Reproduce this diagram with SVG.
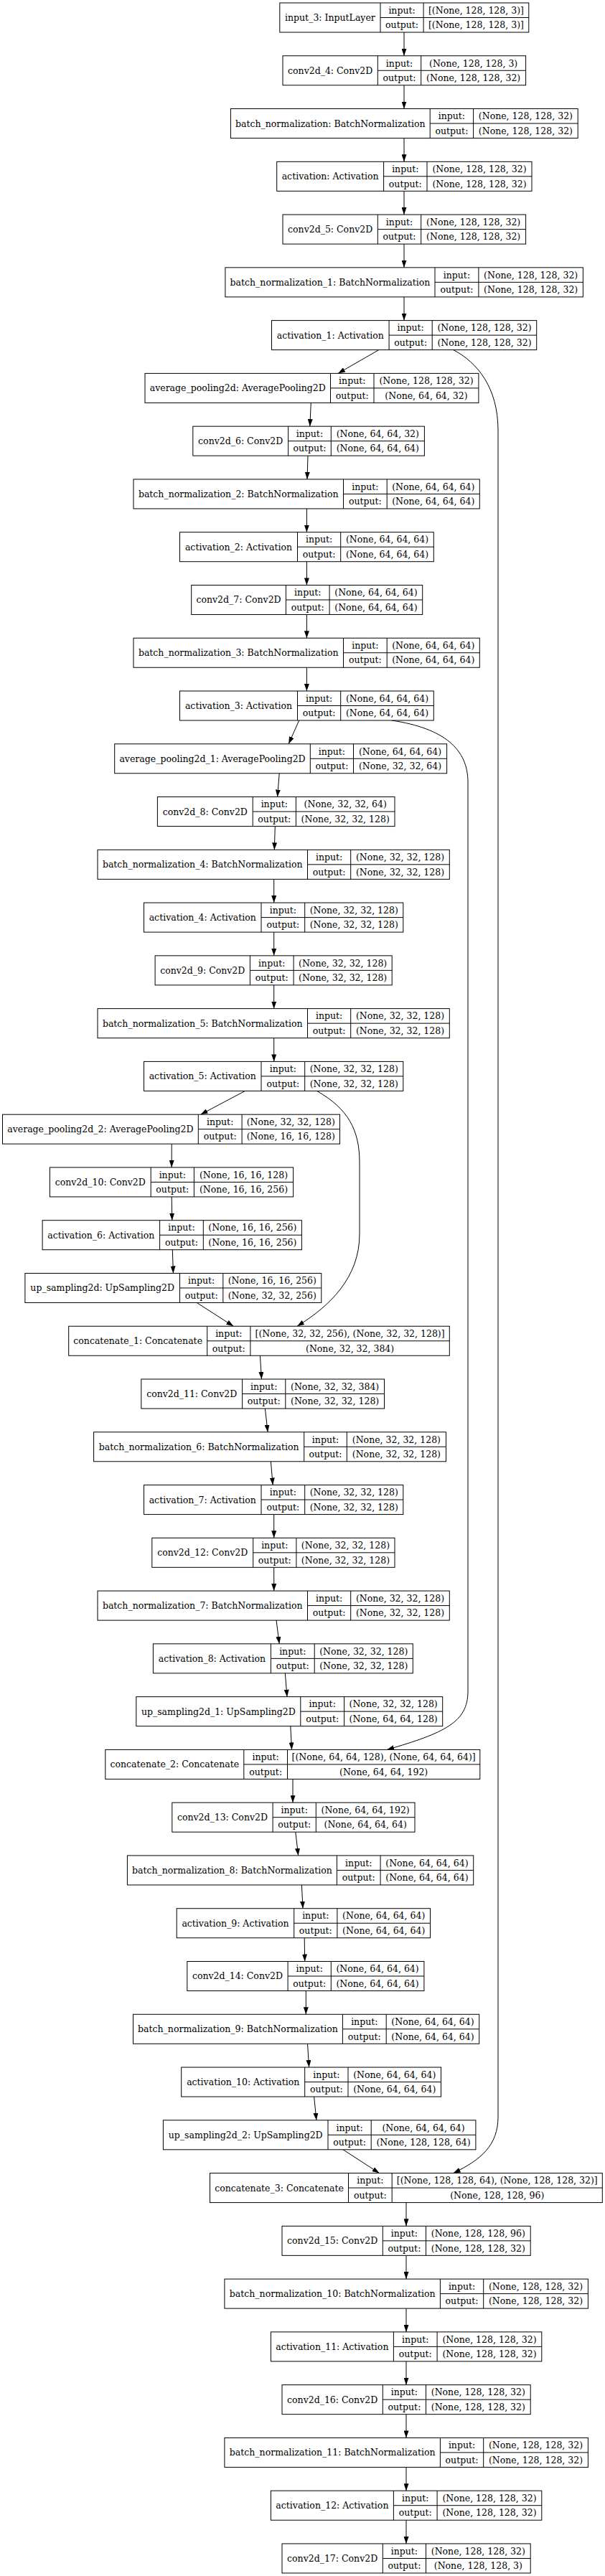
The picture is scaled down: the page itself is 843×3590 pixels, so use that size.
<svg xmlns="http://www.w3.org/2000/svg" width="843" height="3590" viewBox="0 0 843 3590">
<style>
.b{fill:#fff;stroke:#000;stroke-width:1}
.c{fill:none;stroke:#000;stroke-width:1}
.t{font-family:"DejaVu Serif","Liberation Serif",serif;font-size:12.5px;text-anchor:middle;fill:#000}
.e{fill:none;stroke:#000;stroke-width:1;marker-end:url(#ah)}
</style>
<defs>
<marker id="ah" viewBox="0 0 10 7" refX="10" refY="3.5" markerWidth="10" markerHeight="7" markerUnits="userSpaceOnUse" orient="auto"><path d="M0,0L10,3.5L0,7z" fill="#000"/></marker>
</defs>
<rect x="0" y="0" width="843" height="3590" fill="#fff"/>
<g id="edges">
<path class="e" d="M563,45L563,77.77"/>
<path class="e" d="M563,118.77L563,151.54"/>
<path class="e" d="M563,192.54L563,225.31"/>
<path class="e" d="M563,266.31L563,299.08"/>
<path class="e" d="M563,340.08L563,372.85"/>
<path class="e" d="M563,413.85L563,446.62"/>
<path class="e" d="M527.8,487.62L471,520.39"/>
<path class="e" d="M433.3,561.39L431.8,594.16"/>
<path class="e" d="M429,635.16L428,667.93"/>
<path class="e" d="M427.4,708.93L427.4,741.7"/>
<path class="e" d="M427.4,782.7L427.4,815.47"/>
<path class="e" d="M427.4,856.47L427.4,889.24"/>
<path class="e" d="M427.4,930.24L427.4,963.01"/>
<path class="e" d="M416.7,1004.01L402.2,1036.78"/>
<path class="e" d="M389.2,1077.78L386.6,1110.55"/>
<path class="e" d="M383.3,1151.55L382.3,1184.32"/>
<path class="e" d="M381.7,1225.32L381.7,1258.09"/>
<path class="e" d="M381.7,1299.09L381.7,1331.86"/>
<path class="e" d="M381.7,1372.86L381.7,1405.63"/>
<path class="e" d="M381.7,1446.63L381.7,1479.4"/>
<path class="e" d="M341.4,1520.4L279.6,1553.17"/>
<path class="e" d="M239.2,1594.17L239.2,1626.94"/>
<path class="e" d="M239.2,1667.94L239.8,1700.71"/>
<path class="e" d="M240.3,1741.71L241.4,1774.48"/>
<path class="e" d="M274.2,1815.48L325.3,1848.25"/>
<path class="e" d="M362.4,1889.25L364.5,1922.02"/>
<path class="e" d="M369.4,1963.02L373.1,1995.79"/>
<path class="e" d="M377.4,2036.79L380.1,2069.56"/>
<path class="e" d="M381.7,2110.56L381.7,2143.33"/>
<path class="e" d="M381.7,2184.33L381.7,2217.1"/>
<path class="e" d="M385,2258.1L389.2,2290.87"/>
<path class="e" d="M397.3,2331.87L400,2364.64"/>
<path class="e" d="M404.8,2405.64L406.5,2438.41"/>
<path class="e" d="M408,2479.41L408,2512.18"/>
<path class="e" d="M411.8,2553.18L415.6,2585.95"/>
<path class="e" d="M420.4,2626.95L422,2659.72"/>
<path class="e" d="M424.2,2700.72L424.7,2733.49"/>
<path class="e" d="M426.3,2774.49L426.3,2807.26"/>
<path class="e" d="M428.5,2848.26L430.6,2881.03"/>
<path class="e" d="M437.6,2922.03L440.9,2954.8"/>
<path class="e" d="M478,2995.8L528.5,3028.57"/>
<path class="e" d="M566,3069.57L566,3102.34"/>
<path class="e" d="M566,3143.34L566,3176.11"/>
<path class="e" d="M566,3217.11L566,3249.88"/>
<path class="e" d="M566,3290.88L566,3323.65"/>
<path class="e" d="M566,3364.65L566,3397.42"/>
<path class="e" d="M566,3438.42L566,3471.19"/>
<path class="e" d="M566,3512.19L566,3544.96"/>
<path class="e" d="M631.7,487.62C665,505 694,540 694,600L694,2950C694,2990 670,3010 631.7,3028.57"/>
<path class="e" d="M545.7,1004.01C620,1015 652,1045 652,1090L652,2357C652,2400 620,2415 539.2,2438.41"/>
<path class="e" d="M441.5,1520.4C485,1545 501,1575 501,1620L501,1720C501,1780 460,1820 414,1848.25"/>
</g>
<g id="input_3" transform="translate(0,4)"><rect class="b" x="389.8" y="0" width="347" height="41"/><path class="c" d="M530,0V41M590.1,0V41M530,20.5H736.8"/><text class="t" x="459.9" y="25">input_3: InputLayer</text><text class="t" x="560.05" y="14.75">input:</text><text class="t" x="560.05" y="35.25">output:</text><text class="t" x="663.45" y="14.75">[(None, 128, 128, 3)]</text><text class="t" x="663.45" y="35.25">[(None, 128, 128, 3)]</text></g>
<g id="conv2d_4" transform="translate(0,77.77)"><rect class="b" x="394" y="0" width="338.6" height="41"/><path class="c" d="M526.3,0V41M586.7,0V41M526.3,20.5H732.6"/><text class="t" x="460.15" y="25">conv2d_4: Conv2D</text><text class="t" x="556.5" y="14.75">input:</text><text class="t" x="556.5" y="35.25">output:</text><text class="t" x="659.65" y="14.75">(None, 128, 128, 3)</text><text class="t" x="659.65" y="35.25">(None, 128, 128, 32)</text></g>
<g id="batch_normalization" transform="translate(0,151.54)"><rect class="b" x="321.4" y="0" width="483.8" height="41"/><path class="c" d="M599.2,0V41M659.6,0V41M599.2,20.5H805.2"/><text class="t" x="460.3" y="25">batch_normalization: BatchNormalization</text><text class="t" x="629.4" y="14.75">input:</text><text class="t" x="629.4" y="35.25">output:</text><text class="t" x="732.4" y="14.75">(None, 128, 128, 32)</text><text class="t" x="732.4" y="35.25">(None, 128, 128, 32)</text></g>
<g id="activation" transform="translate(0,225.31)"><rect class="b" x="385.7" y="0" width="355.3" height="41"/><path class="c" d="M534.6,0V41M595,0V41M534.6,20.5H741"/><text class="t" x="460.15" y="25">activation: Activation</text><text class="t" x="564.8" y="14.75">input:</text><text class="t" x="564.8" y="35.25">output:</text><text class="t" x="668" y="14.75">(None, 128, 128, 32)</text><text class="t" x="668" y="35.25">(None, 128, 128, 32)</text></g>
<g id="conv2d_5" transform="translate(0,299.08)"><rect class="b" x="394" y="0" width="338.6" height="41"/><path class="c" d="M526.3,0V41M586.7,0V41M526.3,20.5H732.6"/><text class="t" x="460.15" y="25">conv2d_5: Conv2D</text><text class="t" x="556.5" y="14.75">input:</text><text class="t" x="556.5" y="35.25">output:</text><text class="t" x="659.65" y="14.75">(None, 128, 128, 32)</text><text class="t" x="659.65" y="35.25">(None, 128, 128, 32)</text></g>
<g id="batch_normalization_1" transform="translate(0,372.85)"><rect class="b" x="313.9" y="0" width="498.5" height="41"/><path class="c" d="M606,0V41M666.9,0V41M606,20.5H812.4"/><text class="t" x="459.95" y="25">batch_normalization_1: BatchNormalization</text><text class="t" x="636.45" y="14.75">input:</text><text class="t" x="636.45" y="35.25">output:</text><text class="t" x="739.65" y="14.75">(None, 128, 128, 32)</text><text class="t" x="739.65" y="35.25">(None, 128, 128, 32)</text></g>
<g id="activation_1" transform="translate(0,446.62)"><rect class="b" x="378.5" y="0" width="369.2" height="41"/><path class="c" d="M542.1,0V41M602.2,0V41M542.1,20.5H747.7"/><text class="t" x="460.3" y="25">activation_1: Activation</text><text class="t" x="572.15" y="14.75">input:</text><text class="t" x="572.15" y="35.25">output:</text><text class="t" x="674.95" y="14.75">(None, 128, 128, 32)</text><text class="t" x="674.95" y="35.25">(None, 128, 128, 32)</text></g>
<g id="average_pooling2d" transform="translate(0,520.39)"><rect class="b" x="202" y="0" width="464.9" height="41"/><path class="c" d="M460.5,0V41M521,0V41M460.5,20.5H666.9"/><text class="t" x="331.25" y="25">average_pooling2d: AveragePooling2D</text><text class="t" x="490.75" y="14.75">input:</text><text class="t" x="490.75" y="35.25">output:</text><text class="t" x="593.95" y="14.75">(None, 128, 128, 32)</text><text class="t" x="593.95" y="35.25">(None, 64, 64, 32)</text></g>
<g id="conv2d_6" transform="translate(0,594.16)"><rect class="b" x="268.8" y="0" width="322.6" height="41"/><path class="c" d="M401.6,0V41M461.3,0V41M401.6,20.5H591.4"/><text class="t" x="335.2" y="25">conv2d_6: Conv2D</text><text class="t" x="431.45" y="14.75">input:</text><text class="t" x="431.45" y="35.25">output:</text><text class="t" x="526.35" y="14.75">(None, 64, 64, 32)</text><text class="t" x="526.35" y="35.25">(None, 64, 64, 64)</text></g>
<g id="batch_normalization_2" transform="translate(0,667.93)"><rect class="b" x="186" y="0" width="482.3" height="41"/><path class="c" d="M478.5,0V41M539.2,0V41M478.5,20.5H668.3"/><text class="t" x="332.25" y="25">batch_normalization_2: BatchNormalization</text><text class="t" x="508.85" y="14.75">input:</text><text class="t" x="508.85" y="35.25">output:</text><text class="t" x="603.75" y="14.75">(None, 64, 64, 64)</text><text class="t" x="603.75" y="35.25">(None, 64, 64, 64)</text></g>
<g id="activation_2" transform="translate(0,741.7)"><rect class="b" x="250.5" y="0" width="353.8" height="41"/><path class="c" d="M414.5,0V41M474.7,0V41M414.5,20.5H604.3"/><text class="t" x="332.5" y="25">activation_2: Activation</text><text class="t" x="444.6" y="14.75">input:</text><text class="t" x="444.6" y="35.25">output:</text><text class="t" x="539.5" y="14.75">(None, 64, 64, 64)</text><text class="t" x="539.5" y="35.25">(None, 64, 64, 64)</text></g>
<g id="conv2d_7" transform="translate(0,815.47)"><rect class="b" x="266.7" y="0" width="322" height="41"/><path class="c" d="M398.4,0V41M459.1,0V41M398.4,20.5H588.7"/><text class="t" x="332.55" y="25">conv2d_7: Conv2D</text><text class="t" x="428.75" y="14.75">input:</text><text class="t" x="428.75" y="35.25">output:</text><text class="t" x="523.9" y="14.75">(None, 64, 64, 64)</text><text class="t" x="523.9" y="35.25">(None, 64, 64, 64)</text></g>
<g id="batch_normalization_3" transform="translate(0,889.24)"><rect class="b" x="186" y="0" width="482.3" height="41"/><path class="c" d="M478.5,0V41M539.2,0V41M478.5,20.5H668.3"/><text class="t" x="332.25" y="25">batch_normalization_3: BatchNormalization</text><text class="t" x="508.85" y="14.75">input:</text><text class="t" x="508.85" y="35.25">output:</text><text class="t" x="603.75" y="14.75">(None, 64, 64, 64)</text><text class="t" x="603.75" y="35.25">(None, 64, 64, 64)</text></g>
<g id="activation_3" transform="translate(0,963.01)"><rect class="b" x="250.5" y="0" width="353.8" height="41"/><path class="c" d="M414.5,0V41M474.7,0V41M414.5,20.5H604.3"/><text class="t" x="332.5" y="25">activation_3: Activation</text><text class="t" x="444.6" y="14.75">input:</text><text class="t" x="444.6" y="35.25">output:</text><text class="t" x="539.5" y="14.75">(None, 64, 64, 64)</text><text class="t" x="539.5" y="35.25">(None, 64, 64, 64)</text></g>
<g id="average_pooling2d_1" transform="translate(0,1036.78)"><rect class="b" x="159.7" y="0" width="462.9" height="41"/><path class="c" d="M432.3,0V41M492.5,0V41M432.3,20.5H622.6"/><text class="t" x="296" y="25">average_pooling2d_1: AveragePooling2D</text><text class="t" x="462.4" y="14.75">input:</text><text class="t" x="462.4" y="35.25">output:</text><text class="t" x="557.55" y="14.75">(None, 64, 64, 64)</text><text class="t" x="557.55" y="35.25">(None, 32, 32, 64)</text></g>
<g id="conv2d_8" transform="translate(0,1110.55)"><rect class="b" x="219.4" y="0" width="330.6" height="41"/><path class="c" d="M352.2,0V41M412.4,0V41M352.2,20.5H550"/><text class="t" x="285.8" y="25">conv2d_8: Conv2D</text><text class="t" x="382.3" y="14.75">input:</text><text class="t" x="382.3" y="35.25">output:</text><text class="t" x="481.2" y="14.75">(None, 32, 32, 64)</text><text class="t" x="481.2" y="35.25">(None, 32, 32, 128)</text></g>
<g id="batch_normalization_4" transform="translate(0,1184.32)"><rect class="b" x="136" y="0" width="490.3" height="41"/><path class="c" d="M428.5,0V41M488.7,0V41M428.5,20.5H626.3"/><text class="t" x="282.25" y="25">batch_normalization_4: BatchNormalization</text><text class="t" x="458.6" y="14.75">input:</text><text class="t" x="458.6" y="35.25">output:</text><text class="t" x="557.5" y="14.75">(None, 32, 32, 128)</text><text class="t" x="557.5" y="35.25">(None, 32, 32, 128)</text></g>
<g id="activation_4" transform="translate(0,1258.09)"><rect class="b" x="200.5" y="0" width="361.3" height="41"/><path class="c" d="M364,0V41M424.7,0V41M364,20.5H561.8"/><text class="t" x="282.25" y="25">activation_4: Activation</text><text class="t" x="394.35" y="14.75">input:</text><text class="t" x="394.35" y="35.25">output:</text><text class="t" x="493.25" y="14.75">(None, 32, 32, 128)</text><text class="t" x="493.25" y="35.25">(None, 32, 32, 128)</text></g>
<g id="conv2d_9" transform="translate(0,1331.86)"><rect class="b" x="216.1" y="0" width="330.1" height="41"/><path class="c" d="M348.4,0V41M409.1,0V41M348.4,20.5H546.2"/><text class="t" x="282.25" y="25">conv2d_9: Conv2D</text><text class="t" x="378.75" y="14.75">input:</text><text class="t" x="378.75" y="35.25">output:</text><text class="t" x="477.65" y="14.75">(None, 32, 32, 128)</text><text class="t" x="477.65" y="35.25">(None, 32, 32, 128)</text></g>
<g id="batch_normalization_5" transform="translate(0,1405.63)"><rect class="b" x="136" y="0" width="490.3" height="41"/><path class="c" d="M428.5,0V41M488.7,0V41M428.5,20.5H626.3"/><text class="t" x="282.25" y="25">batch_normalization_5: BatchNormalization</text><text class="t" x="458.6" y="14.75">input:</text><text class="t" x="458.6" y="35.25">output:</text><text class="t" x="557.5" y="14.75">(None, 32, 32, 128)</text><text class="t" x="557.5" y="35.25">(None, 32, 32, 128)</text></g>
<g id="activation_5" transform="translate(0,1479.4)"><rect class="b" x="200.5" y="0" width="361.3" height="41"/><path class="c" d="M364,0V41M424.7,0V41M364,20.5H561.8"/><text class="t" x="282.25" y="25">activation_5: Activation</text><text class="t" x="394.35" y="14.75">input:</text><text class="t" x="394.35" y="35.25">output:</text><text class="t" x="493.25" y="14.75">(None, 32, 32, 128)</text><text class="t" x="493.25" y="35.25">(None, 32, 32, 128)</text></g>
<g id="average_pooling2d_2" transform="translate(0,1553.17)"><rect class="b" x="3.5" y="0" width="470" height="41"/><path class="c" d="M276.3,0V41M337.1,0V41M276.3,20.5H473.5"/><text class="t" x="139.9" y="25">average_pooling2d_2: AveragePooling2D</text><text class="t" x="306.7" y="14.75">input:</text><text class="t" x="306.7" y="35.25">output:</text><text class="t" x="405.3" y="14.75">(None, 32, 32, 128)</text><text class="t" x="405.3" y="35.25">(None, 16, 16, 128)</text></g>
<g id="conv2d_10" transform="translate(0,1626.94)"><rect class="b" x="69.4" y="0" width="339.2" height="41"/><path class="c" d="M210.2,0V41M270.4,0V41M210.2,20.5H408.6"/><text class="t" x="139.8" y="25">conv2d_10: Conv2D</text><text class="t" x="240.3" y="14.75">input:</text><text class="t" x="240.3" y="35.25">output:</text><text class="t" x="339.5" y="14.75">(None, 16, 16, 128)</text><text class="t" x="339.5" y="35.25">(None, 16, 16, 256)</text></g>
<g id="activation_6" transform="translate(0,1700.71)"><rect class="b" x="59.1" y="0" width="361.3" height="41"/><path class="c" d="M222.6,0V41M283.3,0V41M222.6,20.5H420.4"/><text class="t" x="140.85" y="25">activation_6: Activation</text><text class="t" x="252.95" y="14.75">input:</text><text class="t" x="252.95" y="35.25">output:</text><text class="t" x="351.85" y="14.75">(None, 16, 16, 256)</text><text class="t" x="351.85" y="35.25">(None, 16, 16, 256)</text></g>
<g id="up_sampling2d" transform="translate(0,1774.48)"><rect class="b" x="34.9" y="0" width="412.9" height="41"/><path class="c" d="M250.5,0V41M310.8,0V41M250.5,20.5H447.8"/><text class="t" x="142.7" y="25">up_sampling2d: UpSampling2D</text><text class="t" x="280.65" y="14.75">input:</text><text class="t" x="280.65" y="35.25">output:</text><text class="t" x="379.3" y="14.75">(None, 16, 16, 256)</text><text class="t" x="379.3" y="35.25">(None, 32, 32, 256)</text></g>
<g id="concatenate_1" transform="translate(0,1848.25)"><rect class="b" x="95.7" y="0" width="530.6" height="41"/><path class="c" d="M288.7,0V41M348.9,0V41M288.7,20.5H626.3"/><text class="t" x="192.2" y="25">concatenate_1: Concatenate</text><text class="t" x="318.8" y="14.75">input:</text><text class="t" x="318.8" y="35.25">output:</text><text class="t" x="487.6" y="14.75">[(None, 32, 32, 256), (None, 32, 32, 128)]</text><text class="t" x="487.6" y="35.25">(None, 32, 32, 384)</text></g>
<g id="conv2d_11" transform="translate(0,1922.02)"><rect class="b" x="196.8" y="0" width="338.7" height="41"/><path class="c" d="M337.6,0V41M397.8,0V41M337.6,20.5H535.5"/><text class="t" x="267.2" y="25">conv2d_11: Conv2D</text><text class="t" x="367.7" y="14.75">input:</text><text class="t" x="367.7" y="35.25">output:</text><text class="t" x="466.65" y="14.75">(None, 32, 32, 384)</text><text class="t" x="466.65" y="35.25">(None, 32, 32, 128)</text></g>
<g id="batch_normalization_6" transform="translate(0,1995.79)"><rect class="b" x="130.6" y="0" width="490.9" height="41"/><path class="c" d="M423.7,0V41M483.3,0V41M423.7,20.5H621.5"/><text class="t" x="277.15" y="25">batch_normalization_6: BatchNormalization</text><text class="t" x="453.5" y="14.75">input:</text><text class="t" x="453.5" y="35.25">output:</text><text class="t" x="552.4" y="14.75">(None, 32, 32, 128)</text><text class="t" x="552.4" y="35.25">(None, 32, 32, 128)</text></g>
<g id="activation_7" transform="translate(0,2069.56)"><rect class="b" x="200.5" y="0" width="361.3" height="41"/><path class="c" d="M364,0V41M424.7,0V41M364,20.5H561.8"/><text class="t" x="282.25" y="25">activation_7: Activation</text><text class="t" x="394.35" y="14.75">input:</text><text class="t" x="394.35" y="35.25">output:</text><text class="t" x="493.25" y="14.75">(None, 32, 32, 128)</text><text class="t" x="493.25" y="35.25">(None, 32, 32, 128)</text></g>
<g id="conv2d_12" transform="translate(0,2143.33)"><rect class="b" x="211.8" y="0" width="338.2" height="41"/><path class="c" d="M352.7,0V41M412.9,0V41M352.7,20.5H550"/><text class="t" x="282.25" y="25">conv2d_12: Conv2D</text><text class="t" x="382.8" y="14.75">input:</text><text class="t" x="382.8" y="35.25">output:</text><text class="t" x="481.45" y="14.75">(None, 32, 32, 128)</text><text class="t" x="481.45" y="35.25">(None, 32, 32, 128)</text></g>
<g id="batch_normalization_7" transform="translate(0,2217.1)"><rect class="b" x="136" y="0" width="490.3" height="41"/><path class="c" d="M428.5,0V41M488.7,0V41M428.5,20.5H626.3"/><text class="t" x="282.25" y="25">batch_normalization_7: BatchNormalization</text><text class="t" x="458.6" y="14.75">input:</text><text class="t" x="458.6" y="35.25">output:</text><text class="t" x="557.5" y="14.75">(None, 32, 32, 128)</text><text class="t" x="557.5" y="35.25">(None, 32, 32, 128)</text></g>
<g id="activation_8" transform="translate(0,2290.87)"><rect class="b" x="213.4" y="0" width="361.9" height="41"/><path class="c" d="M377.4,0V41M438.2,0V41M377.4,20.5H575.3"/><text class="t" x="295.4" y="25">activation_8: Activation</text><text class="t" x="407.8" y="14.75">input:</text><text class="t" x="407.8" y="35.25">output:</text><text class="t" x="506.75" y="14.75">(None, 32, 32, 128)</text><text class="t" x="506.75" y="35.25">(None, 32, 32, 128)</text></g>
<g id="up_sampling2d_1" transform="translate(0,2364.64)"><rect class="b" x="189.8" y="0" width="426.9" height="41"/><path class="c" d="M418.8,0V41M479.6,0V41M418.8,20.5H616.7"/><text class="t" x="304.3" y="25">up_sampling2d_1: UpSampling2D</text><text class="t" x="449.2" y="14.75">input:</text><text class="t" x="449.2" y="35.25">output:</text><text class="t" x="548.15" y="14.75">(None, 32, 32, 128)</text><text class="t" x="548.15" y="35.25">(None, 64, 64, 128)</text></g>
<g id="concatenate_2" transform="translate(0,2438.41)"><rect class="b" x="146.8" y="0" width="522" height="41"/><path class="c" d="M339.8,0V41M400.5,0V41M339.8,20.5H668.8"/><text class="t" x="243.3" y="25">concatenate_2: Concatenate</text><text class="t" x="370.15" y="14.75">input:</text><text class="t" x="370.15" y="35.25">output:</text><text class="t" x="534.65" y="14.75">[(None, 64, 64, 128), (None, 64, 64, 64)]</text><text class="t" x="534.65" y="35.25">(None, 64, 64, 192)</text></g>
<g id="conv2d_13" transform="translate(0,2512.18)"><rect class="b" x="239.8" y="0" width="338.2" height="41"/><path class="c" d="M380.1,0V41M440.3,0V41M380.1,20.5H578"/><text class="t" x="309.95" y="25">conv2d_13: Conv2D</text><text class="t" x="410.2" y="14.75">input:</text><text class="t" x="410.2" y="35.25">output:</text><text class="t" x="509.15" y="14.75">(None, 64, 64, 192)</text><text class="t" x="509.15" y="35.25">(None, 64, 64, 64)</text></g>
<g id="batch_normalization_8" transform="translate(0,2585.95)"><rect class="b" x="177.4" y="0" width="482.3" height="41"/><path class="c" d="M469.4,0V41M530.1,0V41M469.4,20.5H659.7"/><text class="t" x="323.4" y="25">batch_normalization_8: BatchNormalization</text><text class="t" x="499.75" y="14.75">input:</text><text class="t" x="499.75" y="35.25">output:</text><text class="t" x="594.9" y="14.75">(None, 64, 64, 64)</text><text class="t" x="594.9" y="35.25">(None, 64, 64, 64)</text></g>
<g id="activation_9" transform="translate(0,2659.72)"><rect class="b" x="246.2" y="0" width="353.3" height="41"/><path class="c" d="M409.7,0V41M469.9,0V41M409.7,20.5H599.5"/><text class="t" x="327.95" y="25">activation_9: Activation</text><text class="t" x="439.8" y="14.75">input:</text><text class="t" x="439.8" y="35.25">output:</text><text class="t" x="534.7" y="14.75">(None, 64, 64, 64)</text><text class="t" x="534.7" y="35.25">(None, 64, 64, 64)</text></g>
<g id="conv2d_14" transform="translate(0,2733.49)"><rect class="b" x="260.8" y="0" width="330.1" height="41"/><path class="c" d="M401.1,0V41M461.3,0V41M401.1,20.5H590.9"/><text class="t" x="330.95" y="25">conv2d_14: Conv2D</text><text class="t" x="431.2" y="14.75">input:</text><text class="t" x="431.2" y="35.25">output:</text><text class="t" x="526.1" y="14.75">(None, 64, 64, 64)</text><text class="t" x="526.1" y="35.25">(None, 64, 64, 64)</text></g>
<g id="batch_normalization_9" transform="translate(0,2807.26)"><rect class="b" x="185.5" y="0" width="482.2" height="41"/><path class="c" d="M477.4,0V41M538.2,0V41M477.4,20.5H667.7"/><text class="t" x="331.45" y="25">batch_normalization_9: BatchNormalization</text><text class="t" x="507.8" y="14.75">input:</text><text class="t" x="507.8" y="35.25">output:</text><text class="t" x="602.95" y="14.75">(None, 64, 64, 64)</text><text class="t" x="602.95" y="35.25">(None, 64, 64, 64)</text></g>
<g id="activation_10" transform="translate(0,2881.03)"><rect class="b" x="252.7" y="0" width="361.8" height="41"/><path class="c" d="M424.7,0V41M485,0V41M424.7,20.5H614.5"/><text class="t" x="338.7" y="25">activation_10: Activation</text><text class="t" x="454.85" y="14.75">input:</text><text class="t" x="454.85" y="35.25">output:</text><text class="t" x="549.75" y="14.75">(None, 64, 64, 64)</text><text class="t" x="549.75" y="35.25">(None, 64, 64, 64)</text></g>
<g id="up_sampling2d_2" transform="translate(0,2954.8)"><rect class="b" x="227.4" y="0" width="435.5" height="41"/><path class="c" d="M457,0V41M517.2,0V41M457,20.5H662.9"/><text class="t" x="342.2" y="25">up_sampling2d_2: UpSampling2D</text><text class="t" x="487.1" y="14.75">input:</text><text class="t" x="487.1" y="35.25">output:</text><text class="t" x="590.05" y="14.75">(None, 64, 64, 64)</text><text class="t" x="590.05" y="35.25">(None, 128, 128, 64)</text></g>
<g id="concatenate_3" transform="translate(0,3028.57)"><rect class="b" x="292.5" y="0" width="546.8" height="41"/><path class="c" d="M485.5,0V41M546.2,0V41M485.5,20.5H839.3"/><text class="t" x="389" y="25">concatenate_3: Concatenate</text><text class="t" x="515.85" y="14.75">input:</text><text class="t" x="515.85" y="35.25">output:</text><text class="t" x="692.75" y="14.75">[(None, 128, 128, 64), (None, 128, 128, 32)]</text><text class="t" x="692.75" y="35.25">(None, 128, 128, 96)</text></g>
<g id="conv2d_15" transform="translate(0,3102.34)"><rect class="b" x="393" y="0" width="346.2" height="41"/><path class="c" d="M533.3,0V41M593.5,0V41M533.3,20.5H739.2"/><text class="t" x="463.15" y="25">conv2d_15: Conv2D</text><text class="t" x="563.4" y="14.75">input:</text><text class="t" x="563.4" y="35.25">output:</text><text class="t" x="666.35" y="14.75">(None, 128, 128, 96)</text><text class="t" x="666.35" y="35.25">(None, 128, 128, 32)</text></g>
<g id="batch_normalization_10" transform="translate(0,3176.11)"><rect class="b" x="312.9" y="0" width="506.5" height="41"/><path class="c" d="M613.4,0V41M673.7,0V41M613.4,20.5H819.4"/><text class="t" x="463.15" y="25">batch_normalization_10: BatchNormalization</text><text class="t" x="643.55" y="14.75">input:</text><text class="t" x="643.55" y="35.25">output:</text><text class="t" x="746.55" y="14.75">(None, 128, 128, 32)</text><text class="t" x="746.55" y="35.25">(None, 128, 128, 32)</text></g>
<g id="activation_11" transform="translate(0,3249.88)"><rect class="b" x="377.4" y="0" width="377.4" height="41"/><path class="c" d="M548.4,0V41M609.1,0V41M548.4,20.5H754.8"/><text class="t" x="462.9" y="25">activation_11: Activation</text><text class="t" x="578.75" y="14.75">input:</text><text class="t" x="578.75" y="35.25">output:</text><text class="t" x="681.95" y="14.75">(None, 128, 128, 32)</text><text class="t" x="681.95" y="35.25">(None, 128, 128, 32)</text></g>
<g id="conv2d_16" transform="translate(0,3323.65)"><rect class="b" x="393" y="0" width="346.2" height="41"/><path class="c" d="M533.3,0V41M593.5,0V41M533.3,20.5H739.2"/><text class="t" x="463.15" y="25">conv2d_16: Conv2D</text><text class="t" x="563.4" y="14.75">input:</text><text class="t" x="563.4" y="35.25">output:</text><text class="t" x="666.35" y="14.75">(None, 128, 128, 32)</text><text class="t" x="666.35" y="35.25">(None, 128, 128, 32)</text></g>
<g id="batch_normalization_11" transform="translate(0,3397.42)"><rect class="b" x="312.9" y="0" width="506.5" height="41"/><path class="c" d="M613.4,0V41M673.7,0V41M613.4,20.5H819.4"/><text class="t" x="463.15" y="25">batch_normalization_11: BatchNormalization</text><text class="t" x="643.55" y="14.75">input:</text><text class="t" x="643.55" y="35.25">output:</text><text class="t" x="746.55" y="14.75">(None, 128, 128, 32)</text><text class="t" x="746.55" y="35.25">(None, 128, 128, 32)</text></g>
<g id="activation_12" transform="translate(0,3471.19)"><rect class="b" x="377.4" y="0" width="377.4" height="41"/><path class="c" d="M548.4,0V41M609.1,0V41M548.4,20.5H754.8"/><text class="t" x="462.9" y="25">activation_12: Activation</text><text class="t" x="578.75" y="14.75">input:</text><text class="t" x="578.75" y="35.25">output:</text><text class="t" x="681.95" y="14.75">(None, 128, 128, 32)</text><text class="t" x="681.95" y="35.25">(None, 128, 128, 32)</text></g>
<g id="conv2d_17" transform="translate(0,3544.96)"><rect class="b" x="393" y="0" width="346.2" height="41"/><path class="c" d="M533.3,0V41M593.5,0V41M533.3,20.5H739.2"/><text class="t" x="463.15" y="25">conv2d_17: Conv2D</text><text class="t" x="563.4" y="14.75">input:</text><text class="t" x="563.4" y="35.25">output:</text><text class="t" x="666.35" y="14.75">(None, 128, 128, 32)</text><text class="t" x="666.35" y="35.25">(None, 128, 128, 3)</text></g>
</svg>
